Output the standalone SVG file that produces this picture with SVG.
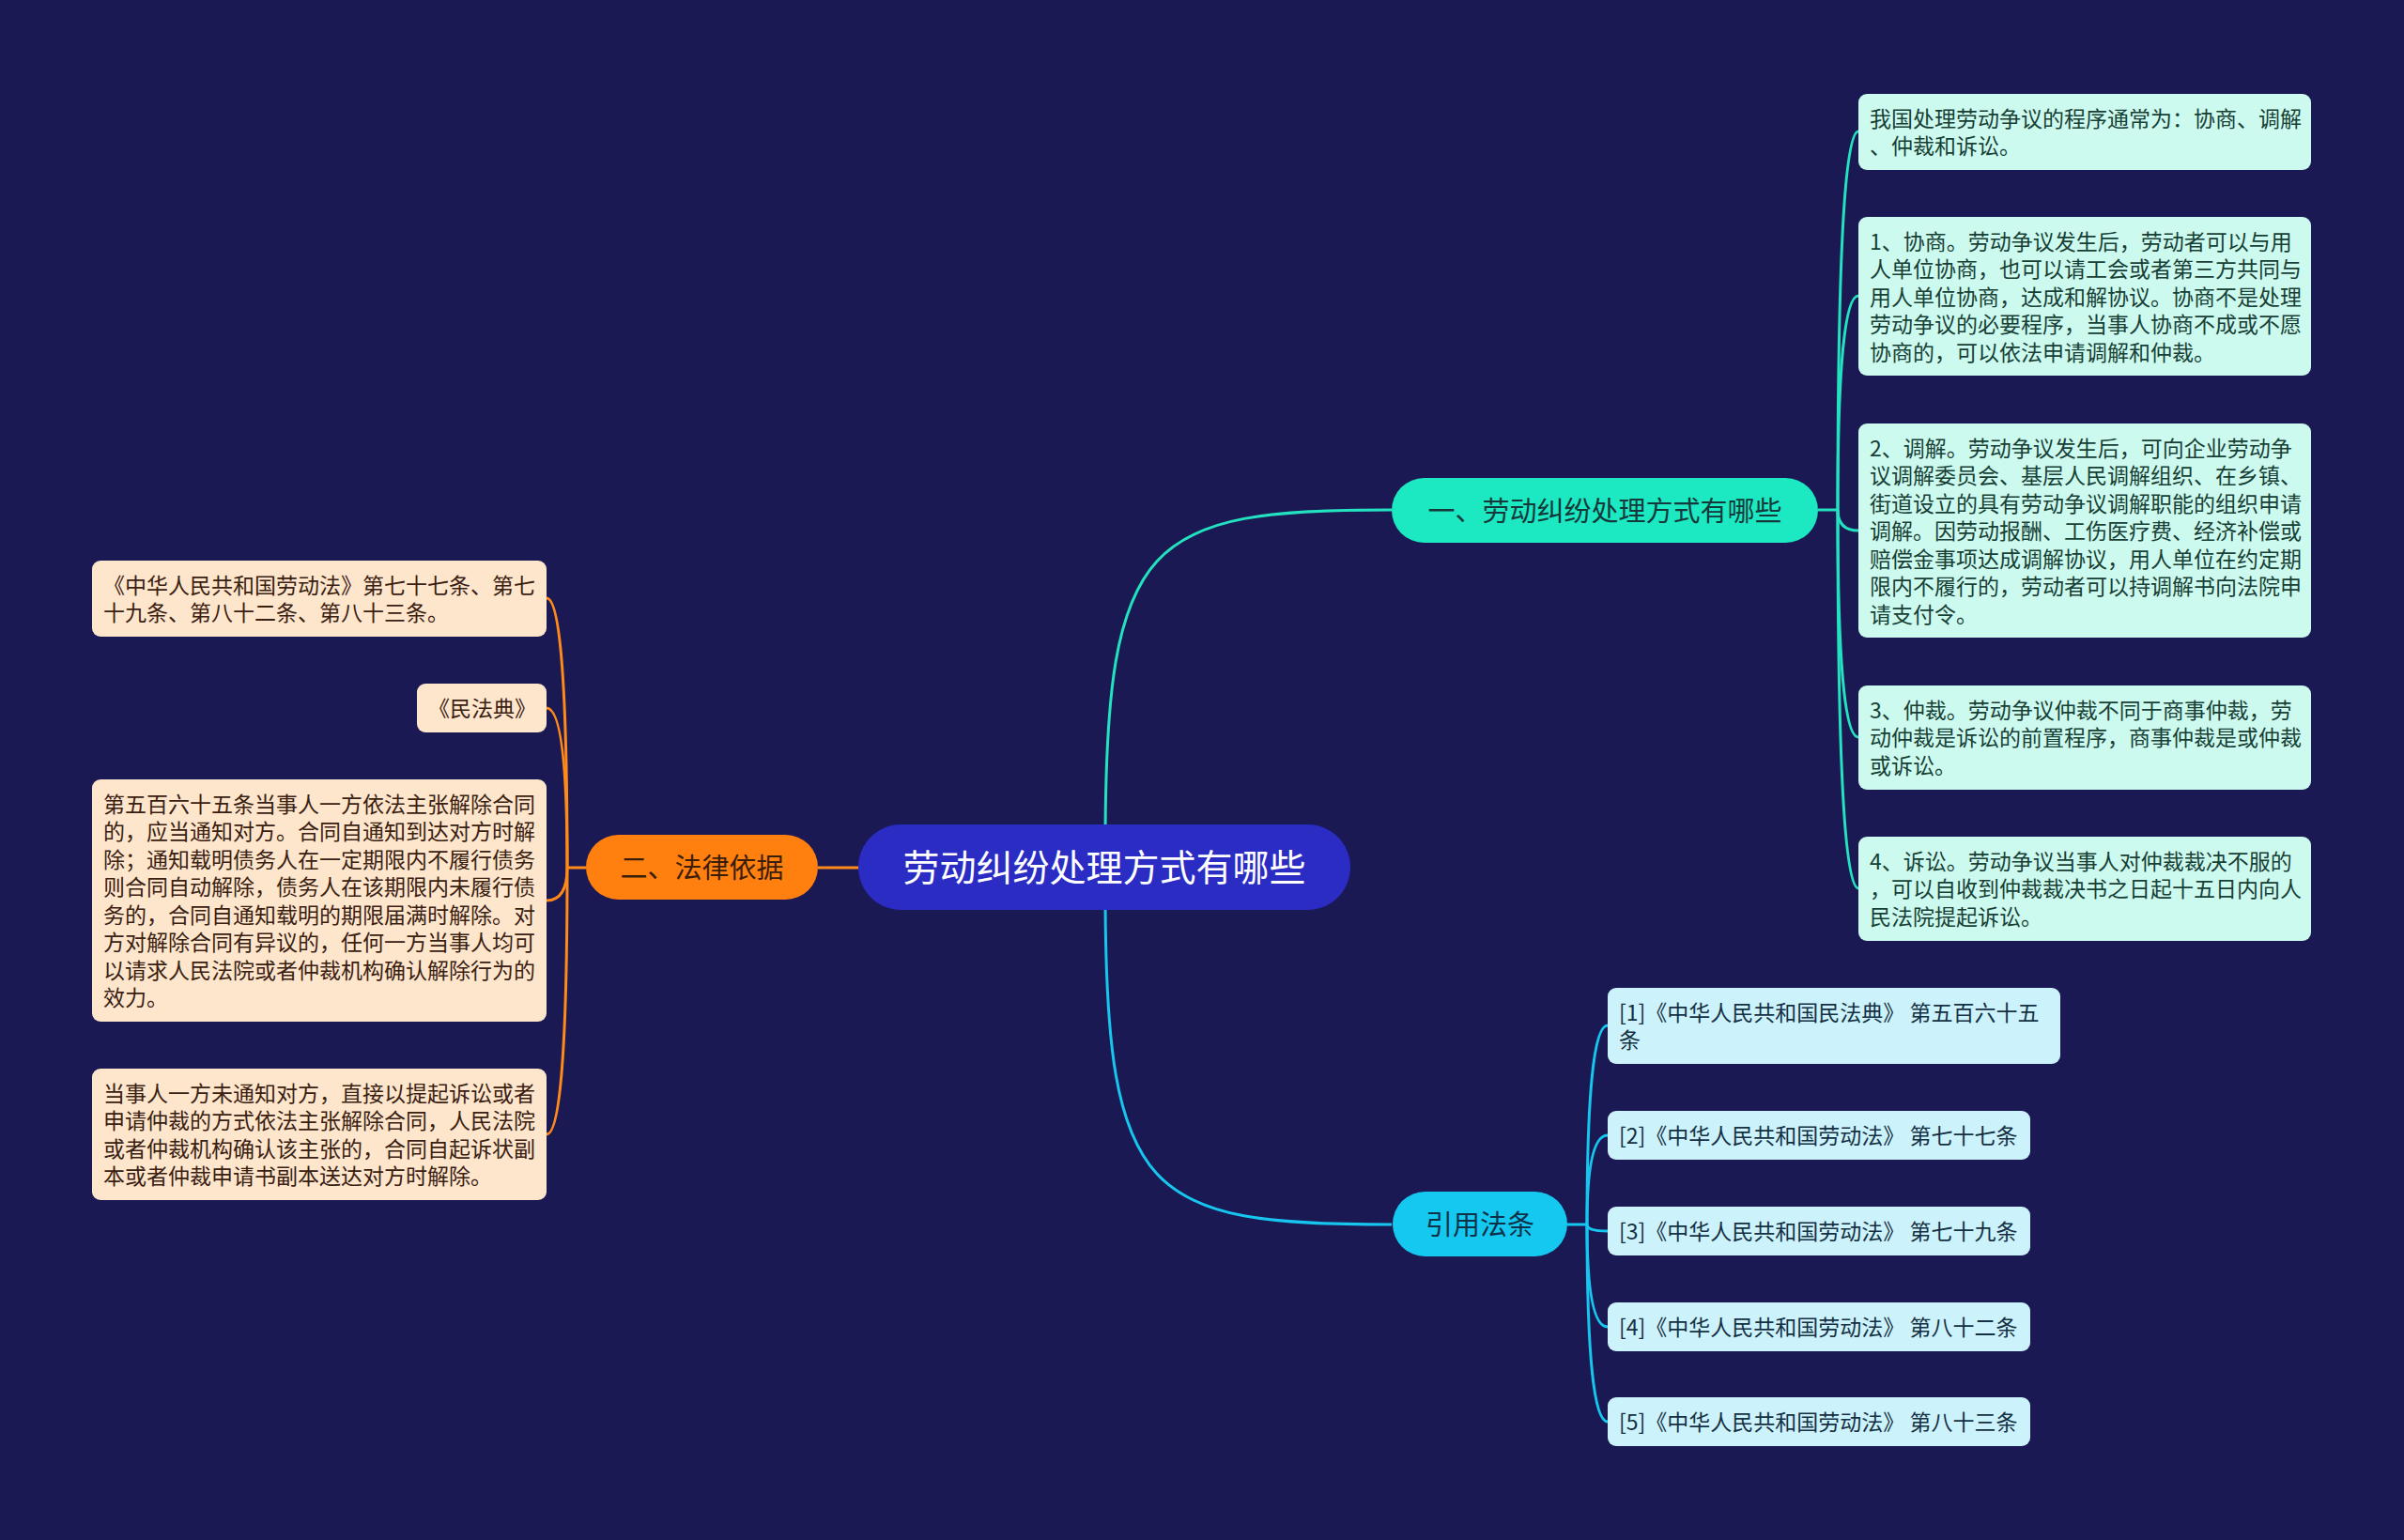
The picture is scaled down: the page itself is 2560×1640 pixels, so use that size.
<svg xmlns="http://www.w3.org/2000/svg" width="2560" height="1640" viewBox="0 0 2560 1640">
<style>
.t{font-family:"Noto Sans CJK SC","Noto Sans",sans-serif;}
.rb{fill:#cdfaee;}
.rt{fill:#173f36;font-size:23px;}
.lb{fill:#fee6cd;}
.lt{fill:#3a2010;font-size:23px;}
.cb{fill:#ccf2fc;}
.ct{fill:#143042;font-size:23px;}
.teal{stroke:#22e2c0;}
.org{stroke:#ff8a1a;}
.cyan{stroke:#16c6ee;}
#connectors path{fill:none;stroke-width:3;}
</style>
<rect x="0" y="0" width="2560" height="1640" fill="#1b1953"/>
<g id="connectors">
<path class="teal" d="M1177 900 C1177 570 1222 543 1482 543"/>
<path class="cyan" d="M1177 950 C1177 1278 1222 1304 1482 1304"/>
<path class="org" d="M914 924 L871 924"/>
<path class="teal" d="M1936 543 L1957 543"/>
<path class="teal" d="M1957 543 Q1957 140 1979 140"/>
<path class="teal" d="M1957 543 Q1957 315 1979 315"/>
<path class="teal" d="M1957 543 Q1957 565 1979 565"/>
<path class="teal" d="M1957 543 Q1957 785 1979 785"/>
<path class="teal" d="M1957 543 Q1957 946 1979 946"/>
<path class="org" d="M624 924 L604 924"/>
<path class="org" d="M604 924 Q604 637 582 637"/>
<path class="org" d="M604 924 Q604 754 582 754"/>
<path class="org" d="M604 924 Q604 959 582 959"/>
<path class="org" d="M604 924 Q604 1208 582 1208"/>
<path class="cyan" d="M1669 1304 L1690 1304"/>
<path class="cyan" d="M1690 1304 Q1690 1092 1712 1092"/>
<path class="cyan" d="M1690 1304 Q1690 1209 1712 1209"/>
<path class="cyan" d="M1690 1304 Q1690 1311 1712 1311"/>
<path class="cyan" d="M1690 1304 Q1690 1413 1712 1413"/>
<path class="cyan" d="M1690 1304 Q1690 1514 1712 1514"/>
</g>
<g id="root">
<rect x="914" y="878" width="524" height="91" rx="45.5" fill="#2a2cc4"/>
<text class="t" x="1176" y="937.5" font-size="39" fill="#ffffff" text-anchor="middle">劳动纠纷处理方式有哪些</text>
</g>
<g id="branch1">
<rect x="1482" y="509" width="454" height="69" rx="34.5" fill="#1ce8c1"/>
<text class="t" x="1709" y="554.5" font-size="29" fill="#15383a" text-anchor="middle">一、劳动纠纷处理方式有哪些</text>
</g>
<g id="branch2">
<rect x="624" y="889" width="247" height="69" rx="34.5" fill="#ff7f0f"/>
<text class="t" x="747.5" y="934.5" font-size="29" fill="#3b1e0a" text-anchor="middle">二、法律依据</text>
</g>
<g id="branch3">
<rect x="1483" y="1269" width="186" height="69" rx="34.5" fill="#14c8ef"/>
<text class="t" x="1576" y="1314.5" font-size="29" fill="#0e3048" text-anchor="middle">引用法条</text>
</g>
<g id="r1">
<rect class="rb" x="1979" y="100" width="482" height="81" rx="9"/>
<text class="t rt" x="1991" y="134.5"><tspan x="1991">我国处理劳动争议的程序通常为：协商、调解</tspan><tspan x="1991" dy="29.5">、仲裁和诉讼。</tspan></text>
</g>
<g id="r2">
<rect class="rb" x="1979" y="231" width="482" height="169" rx="9"/>
<text class="t rt" x="1991" y="265.5"><tspan x="1991">1、协商。劳动争议发生后，劳动者可以与用</tspan><tspan x="1991" dy="29.5">人单位协商，也可以请工会或者第三方共同与</tspan><tspan x="1991" dy="29.5">用人单位协商，达成和解协议。协商不是处理</tspan><tspan x="1991" dy="29.5">劳动争议的必要程序，当事人协商不成或不愿</tspan><tspan x="1991" dy="29.5">协商的，可以依法申请调解和仲裁。</tspan></text>
</g>
<g id="r3">
<rect class="rb" x="1979" y="451" width="482" height="228" rx="9"/>
<text class="t rt" x="1991" y="485.5"><tspan x="1991">2、调解。劳动争议发生后，可向企业劳动争</tspan><tspan x="1991" dy="29.5">议调解委员会、基层人民调解组织、在乡镇、</tspan><tspan x="1991" dy="29.5">街道设立的具有劳动争议调解职能的组织申请</tspan><tspan x="1991" dy="29.5">调解。因劳动报酬、工伤医疗费、经济补偿或</tspan><tspan x="1991" dy="29.5">赔偿金事项达成调解协议，用人单位在约定期</tspan><tspan x="1991" dy="29.5">限内不履行的，劳动者可以持调解书向法院申</tspan><tspan x="1991" dy="29.5">请支付令。</tspan></text>
</g>
<g id="r4">
<rect class="rb" x="1979" y="730" width="482" height="111" rx="9"/>
<text class="t rt" x="1991" y="764.5"><tspan x="1991">3、仲裁。劳动争议仲裁不同于商事仲裁，劳</tspan><tspan x="1991" dy="29.5">动仲裁是诉讼的前置程序，商事仲裁是或仲裁</tspan><tspan x="1991" dy="29.5">或诉讼。</tspan></text>
</g>
<g id="r5">
<rect class="rb" x="1979" y="891" width="482" height="111" rx="9"/>
<text class="t rt" x="1991" y="925.5"><tspan x="1991">4、诉讼。劳动争议当事人对仲裁裁决不服的</tspan><tspan x="1991" dy="29.5">，可以自收到仲裁裁决书之日起十五日内向人</tspan><tspan x="1991" dy="29.5">民法院提起诉讼。</tspan></text>
</g>
<g id="l1">
<rect class="lb" x="98" y="597" width="484" height="81" rx="9"/>
<text class="t lt" x="110" y="631.5"><tspan x="110">《中华人民共和国劳动法》第七十七条、第七</tspan><tspan x="110" dy="29.5">十九条、第八十二条、第八十三条。</tspan></text>
</g>
<g id="l2">
<rect class="lb" x="444" y="728" width="138" height="52" rx="9"/>
<text class="t lt" x="456" y="762.5">《民法典》</text>
</g>
<g id="l3">
<rect class="lb" x="98" y="830" width="484" height="258" rx="9"/>
<text class="t lt" x="110" y="864.5"><tspan x="110">第五百六十五条当事人一方依法主张解除合同</tspan><tspan x="110" dy="29.5">的，应当通知对方。合同自通知到达对方时解</tspan><tspan x="110" dy="29.5">除；通知载明债务人在一定期限内不履行债务</tspan><tspan x="110" dy="29.5">则合同自动解除，债务人在该期限内未履行债</tspan><tspan x="110" dy="29.5">务的，合同自通知载明的期限届满时解除。对</tspan><tspan x="110" dy="29.5">方对解除合同有异议的，任何一方当事人均可</tspan><tspan x="110" dy="29.5">以请求人民法院或者仲裁机构确认解除行为的</tspan><tspan x="110" dy="29.5">效力。</tspan></text>
</g>
<g id="l4">
<rect class="lb" x="98" y="1138" width="484" height="140" rx="9"/>
<text class="t lt" x="110" y="1172.5"><tspan x="110">当事人一方未通知对方，直接以提起诉讼或者</tspan><tspan x="110" dy="29.5">申请仲裁的方式依法主张解除合同，人民法院</tspan><tspan x="110" dy="29.5">或者仲裁机构确认该主张的，合同自起诉状副</tspan><tspan x="110" dy="29.5">本或者仲裁申请书副本送达对方时解除。</tspan></text>
</g>
<g id="c1">
<rect class="cb" x="1712" y="1052" width="482" height="81" rx="9"/>
<text class="t ct" x="1724" y="1086.5"><tspan x="1724">[1]《中华人民共和国民法典》 第五百六十五</tspan><tspan x="1724" dy="29.5">条</tspan></text>
</g>
<g id="c2">
<rect class="cb" x="1712" y="1183" width="450" height="52" rx="9"/>
<text class="t ct" x="1724" y="1217.5">[2]《中华人民共和国劳动法》 第七十七条</text>
</g>
<g id="c3">
<rect class="cb" x="1712" y="1285" width="450" height="52" rx="9"/>
<text class="t ct" x="1724" y="1319.5">[3]《中华人民共和国劳动法》 第七十九条</text>
</g>
<g id="c4">
<rect class="cb" x="1712" y="1387" width="450" height="52" rx="9"/>
<text class="t ct" x="1724" y="1421.5">[4]《中华人民共和国劳动法》 第八十二条</text>
</g>
<g id="c5">
<rect class="cb" x="1712" y="1488" width="450" height="52" rx="9"/>
<text class="t ct" x="1724" y="1522.5">[5]《中华人民共和国劳动法》 第八十三条</text>
</g>
</svg>
